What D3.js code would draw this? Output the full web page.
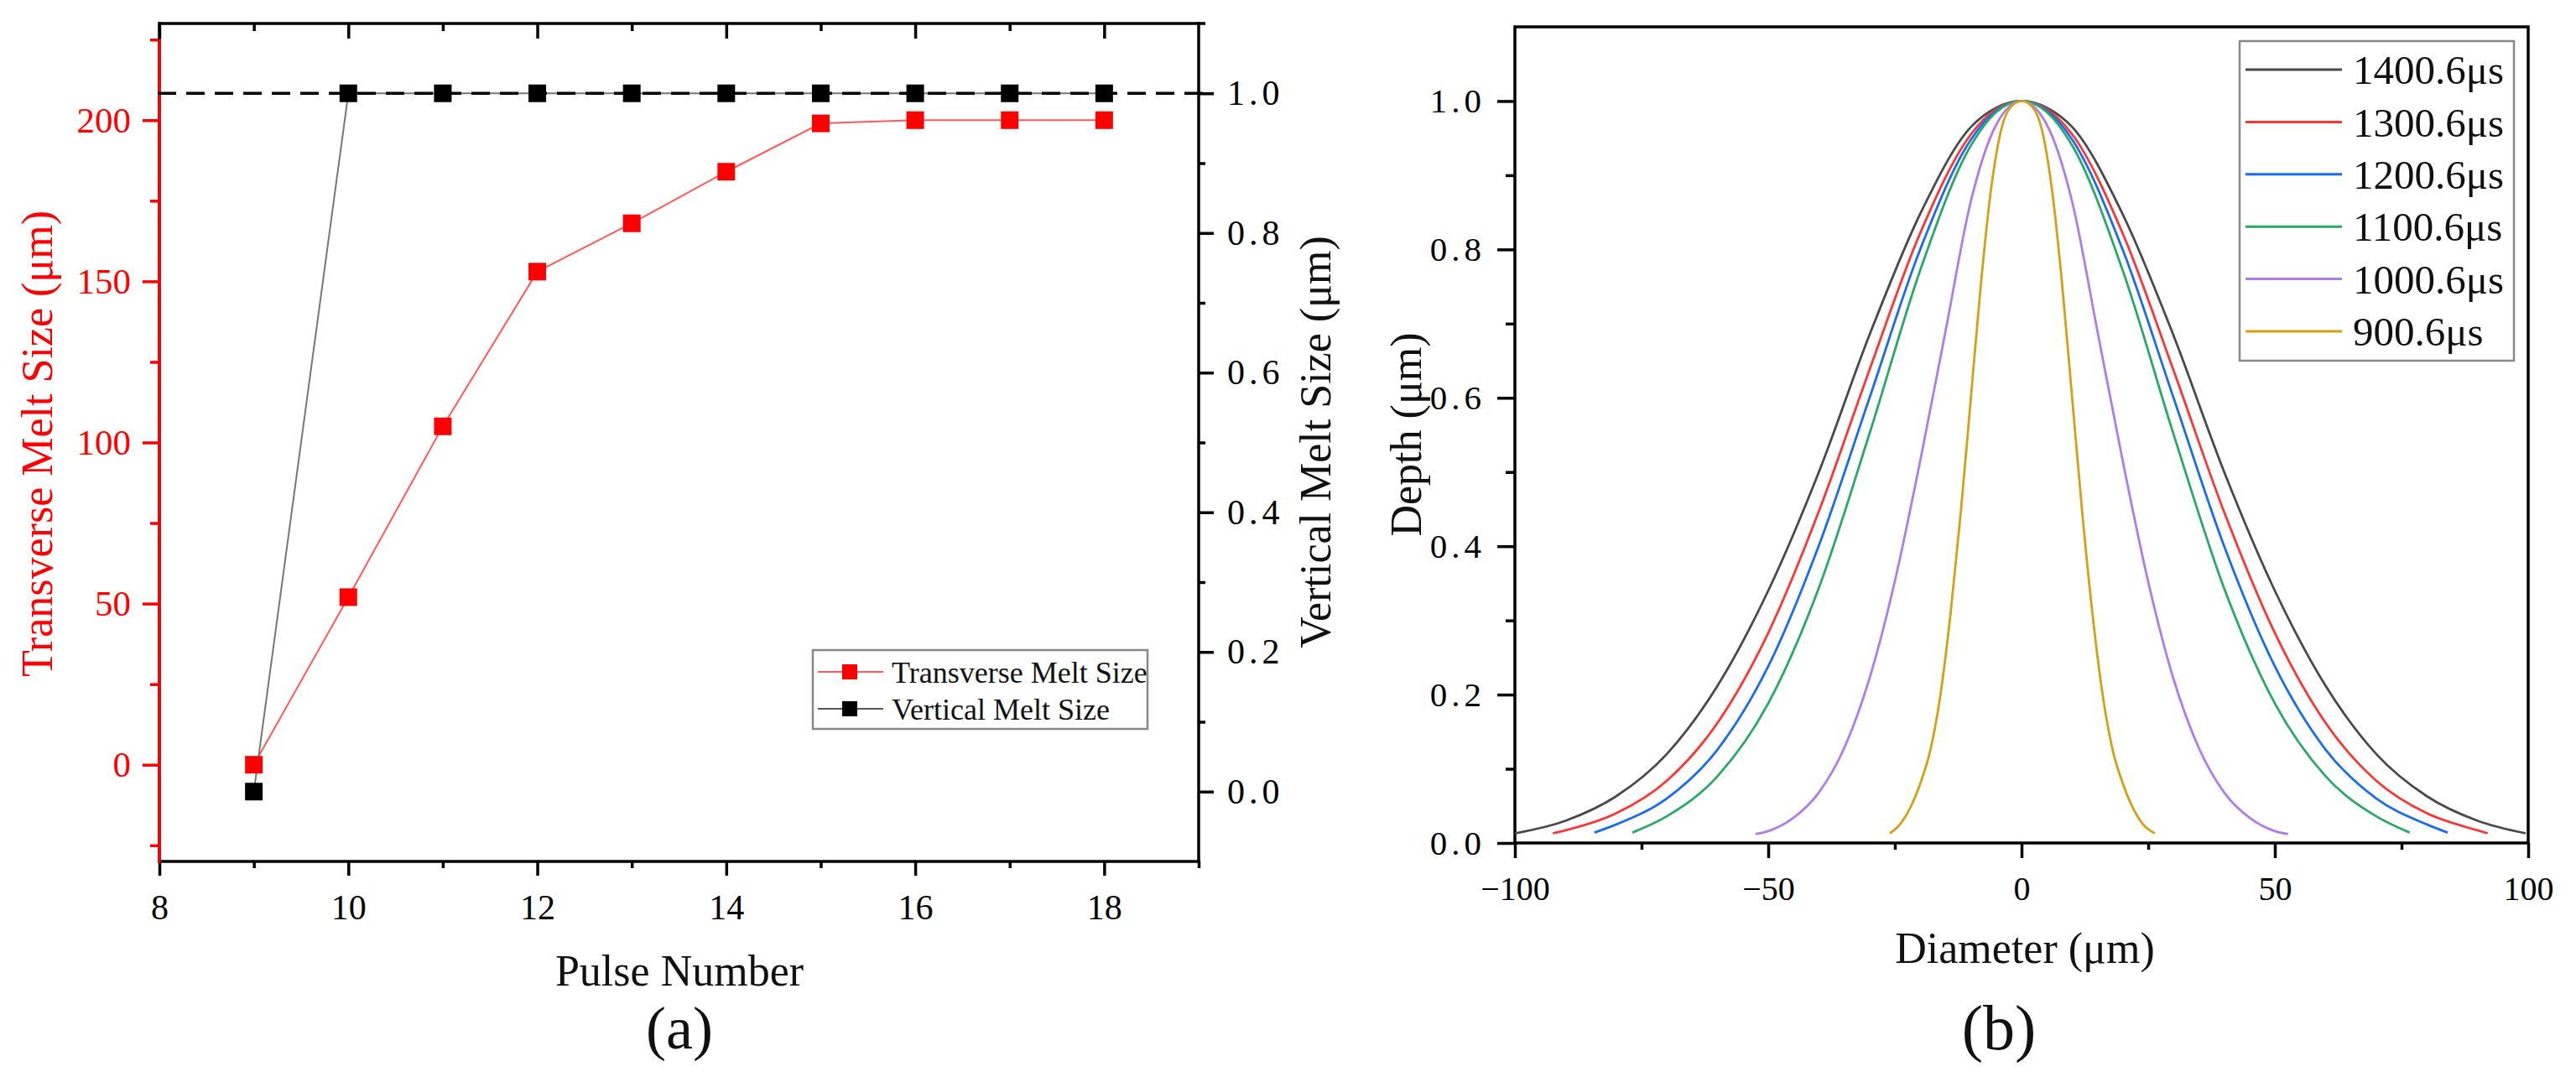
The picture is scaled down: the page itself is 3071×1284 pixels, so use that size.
<!DOCTYPE html>
<html>
<head>
<meta charset="utf-8">
<script src="https://cdn.jsdelivr.net/npm/d3@7"></script>
<style>
  html, body { margin: 0; padding: 0; background: #fff; }
  svg { display: block; }
  text { font-family: "Liberation Serif", "Times New Roman", serif; }
</style>
</head>
<body>
<svg id="chart" width="3071" height="1284"></svg>
<script>
// ---------------- Panel (a) data ----------------
const pulseNumbers = [9, 10, 11, 12, 13, 14, 15, 16, 17, 18];
const transverseMelt = [0, 52, 105, 153, 168, 184, 199, 200, 200, 200];
const verticalMelt = [0, 1, 1, 1, 1, 1, 1, 1, 1, 1];
const referenceVertical = 1.0;
const seriesNamesA = ["Transverse Melt Size", "Vertical Melt Size"];

const xTicksA = [8, 10, 12, 14, 16, 18];
const xMinorA = [9, 11, 13, 15, 17, 19];
const yLeftTicks = [0, 50, 100, 150, 200];
const yLeftMinor = [-25, 25, 75, 125, 175, 225];
const yRightTicks = [0, 0.2, 0.4, 0.6, 0.8, 1.0];
const yRightMinor = [0.1, 0.3, 0.5, 0.7, 0.9];

// ---------------- Panel (b) data ----------------
const labelsB = ["1400.6μs", "1300.6μs", "1200.6μs", "1100.6μs", "1000.6μs", "900.6μs"];
const colorsB = ["#4a4a4a", "#ff3535", "#1a6cf0", "#2aa866", "#b07ce8", "#d4a114"];
const curve1400 = [[-100,0.013],[-90,0.03],[-80,0.063],[-70,0.12],[-60,0.212],[-50,0.34],[-40,0.5],[-30,0.685],[-20,0.848],[-10,0.965],[-5,0.991],[0,1],
                   [5,0.991],[10,0.965],[20,0.847],[30,0.684],[40,0.5],[50,0.34],[60,0.212],[70,0.12],[80,0.063],[90,0.03],[99.5,0.013]];
const curve1300 = [[-92.5,0.013],[-90,0.017],[-80,0.04],[-70,0.084],[-60,0.162],[-50,0.283],[-40,0.447],[-30,0.638],[-20,0.822],[-10,0.955],[-5,0.989],[0,1],
                   [5,0.989],[10,0.955],[20,0.821],[30,0.637],[40,0.446],[50,0.283],[60,0.162],[70,0.084],[80,0.04],[90,0.017],[92,0.013]];
const curve1200 = [[-84.3,0.014],[-80,0.025],[-70,0.06],[-60,0.126],[-50,0.238],[-40,0.401],[-30,0.6],[-20,0.8],[-10,0.948],[-5,0.987],[0,1],
                   [5,0.987],[10,0.948],[20,0.799],[30,0.6],[40,0.4],[50,0.238],[60,0.126],[70,0.06],[80,0.025],[84.1,0.014]];
const curve1100 = [[-76.8,0.014],[-70,0.036],[-60,0.09],[-50,0.188],[-40,0.344],[-30,0.552],[-20,0.772],[-10,0.94],[-5,0.985],[0,1],
                   [5,0.985],[10,0.94],[20,0.771],[30,0.551],[40,0.343],[50,0.188],[60,0.09],[70,0.036],[76.6,0.014]];
const curve1000 = [[-52.5,0.012],[-50,0.016],[-45,0.034],[-40,0.068],[-35,0.128],[-30,0.222],[-25,0.353],[-20,0.515],[-15,0.69],[-10,0.865],[-5,0.968],[0,1],
                   [5,0.968],[10,0.864],[15,0.689],[20,0.514],[25,0.352],[30,0.221],[35,0.128],[40,0.068],[45,0.034],[50,0.016],[52.6,0.012]];
const curve900 = [[-26,0.013],[-24,0.025],[-22,0.047],[-20,0.08],[-18,0.125],[-16,0.2],[-14,0.31],[-12,0.445],[-10,0.6],[-8,0.755],[-6,0.882],[-4,0.962],[-2,0.993],[0,1],
                  [2,0.993],[4,0.962],[6,0.881],[8,0.754],[10,0.599],[12,0.444],[14,0.309],[16,0.2],[18,0.125],[20,0.08],[22,0.047],[24,0.025],[26.3,0.013]];
const curvesB = [curve1400, curve1300, curve1200, curve1100, curve1000, curve900];

const xTicksB = [-100, -50, 0, 50, 100];
const xMinorB = [-75, -25, 25, 75];
const yTicksB = [0, 0.2, 0.4, 0.6, 0.8, 1.0];
const yMinorB = [0.1, 0.3, 0.5, 0.7, 0.9];

// ---------------- Drawing ----------------
const svg = d3.select("#chart");
const RED = "#ff0000";
const FW = 3.5; // frame width
const SERIF = '"Liberation Serif", "Times New Roman", serif';

function styleAxis(g, color, fontSize) {
  g.attr("font-family", SERIF);
  g.select(".domain").remove();
  g.selectAll(".tick line").attr("stroke", color).attr("stroke-width", FW);
  g.selectAll(".tick text").attr("fill", color).attr("font-size", fontSize).attr("font-family", SERIF);
}

// ===== Panel (a) =====
const xA = d3.scaleLinear().domain([8, 19]).range([190, 1429]);
const yL = d3.scaleLinear().domain([-30, 230]).range([1027, 28]);
const yR = d3.scaleLinear().domain([-0.1, 1.1]).range([1027, 28]);
const gA = svg.append("g");

gA.append("g").attr("transform", "translate(0,1027)")
  .call(d3.axisBottom(xA).tickValues(xTicksA).tickSize(17).tickPadding(22).tickFormat(d3.format("d")))
  .call(g => styleAxis(g, "#000", 42));
gA.append("g").attr("transform", "translate(0,1027)")
  .call(d3.axisBottom(xA).tickValues(xMinorA).tickSize(8).tickFormat(""))
  .call(g => styleAxis(g, "#000", 42));
gA.append("g").attr("transform", "translate(0,28)")
  .call(d3.axisBottom(xA).tickValues(xTicksA).tickSize(18).tickFormat(""))
  .call(g => styleAxis(g, "#000", 42));
gA.append("g").attr("transform", "translate(0,28)")
  .call(d3.axisBottom(xA).tickValues(xMinorA.filter(v => v < 19)).tickSize(9).tickFormat(""))
  .call(g => styleAxis(g, "#000", 42));
gA.append("g").attr("transform", "translate(1429,0)")
  .call(d3.axisRight(yR).tickValues(yRightTicks).tickSize(18).tickPadding(16).tickFormat(d3.format(".1f")))
  .call(g => styleAxis(g, "#000", 42))
  .call(g => g.selectAll(".tick text").attr("letter-spacing", 5));
gA.append("g").attr("transform", "translate(1429,0)")
  .call(d3.axisRight(yR).tickValues(yRightMinor).tickSize(8).tickFormat(""))
  .call(g => styleAxis(g, "#000", 42));
gA.append("g").attr("transform", "translate(190,0)")
  .call(d3.axisLeft(yL).tickValues(yLeftTicks).tickSize(20).tickPadding(14).tickFormat(d3.format("d")))
  .call(g => styleAxis(g, RED, 43));
gA.append("g").attr("transform", "translate(190,0)")
  .call(d3.axisLeft(yL).tickValues(yLeftMinor).tickSize(11).tickFormat(""))
  .call(g => styleAxis(g, RED, 43));

// frame
gA.append("line").attr("x1", 190).attr("x2", 1437).attr("y1", 28).attr("y2", 28).attr("stroke", "#000").attr("stroke-width", FW);
gA.append("line").attr("x1", 188).attr("x2", 1431).attr("y1", 1027).attr("y2", 1027).attr("stroke", "#000").attr("stroke-width", FW);
gA.append("line").attr("x1", 1429).attr("x2", 1429).attr("y1", 26).attr("y2", 1029).attr("stroke", "#000").attr("stroke-width", FW);
gA.append("line").attr("x1", 190).attr("x2", 190).attr("y1", 26).attr("y2", 1027).attr("stroke", "#000").attr("stroke-width", FW);
gA.append("line").attr("x1", 190).attr("x2", 190).attr("y1", yL(225)).attr("y2", 1029).attr("stroke", RED).attr("stroke-width", FW);

// data lines
const lineT = d3.line().x((d, i) => xA(pulseNumbers[i])).y(d => yL(d));
const lineV = d3.line().x((d, i) => xA(pulseNumbers[i])).y(d => yR(d));
gA.append("path").datum(transverseMelt).attr("d", lineT).attr("fill", "none").attr("stroke", "#ff5a5a").attr("stroke-width", 2);
gA.append("path").datum(verticalMelt).attr("d", lineV).attr("fill", "none").attr("stroke", "#777").attr("stroke-width", 2);

// dashed reference line
gA.append("line").attr("x1", 188).attr("x2", 1447)
  .attr("y1", yR(referenceVertical)).attr("y2", yR(referenceVertical))
  .attr("stroke", "#000").attr("stroke-width", 3.5).attr("stroke-dasharray", "22,12");

// markers
const MS = 21;
gA.selectAll(".mT").data(transverseMelt).join("rect")
  .attr("x", (d, i) => xA(pulseNumbers[i]) - MS / 2).attr("y", d => yL(d) - MS / 2)
  .attr("width", MS).attr("height", MS).attr("fill", RED);
gA.selectAll(".mV").data(verticalMelt).join("rect")
  .attr("x", (d, i) => xA(pulseNumbers[i]) - MS / 2).attr("y", d => yR(d) - MS / 2)
  .attr("width", MS).attr("height", MS).attr("fill", "#000");

// legend (a)
const legA = gA.append("g");
legA.append("rect").attr("x", 969).attr("y", 775).attr("width", 399).attr("height", 94)
  .attr("fill", "#fff").attr("stroke", "#888").attr("stroke-width", 2.5);
[[801, "#ff5a5a", RED], [845, "#555", "#000"]].forEach((r, i) => {
  legA.append("line").attr("x1", 975).attr("x2", 1053).attr("y1", r[0]).attr("y2", r[0]).attr("stroke", r[1]).attr("stroke-width", 2);
  legA.append("rect").attr("x", 1013 - 9).attr("y", r[0] - 9).attr("width", 18).attr("height", 18).attr("fill", r[2]);
  legA.append("text").attr("x", 1063).attr("y", r[0]).attr("dy", "0.35em").attr("font-size", 36)
    .attr("fill", "#111").text(seriesNamesA[i]);
});

// titles (a)
gA.append("text").attr("transform", "translate(44,529) rotate(-90)").attr("dy", "0.35em")
  .attr("text-anchor", "middle").attr("font-size", 52).attr("fill", RED).text("Transverse Melt Size (μm)");
gA.append("text").attr("transform", "translate(1568,527) rotate(-90)").attr("dy", "0.35em")
  .attr("text-anchor", "middle").attr("font-size", 52).attr("fill", "#111").text("Vertical Melt Size (μm)");
gA.append("text").attr("x", 810).attr("y", 1175).attr("text-anchor", "middle")
  .attr("font-size", 52).attr("fill", "#111").text("Pulse Number");
gA.append("text").attr("x", 810).attr("y", 1250).attr("text-anchor", "middle")
  .attr("font-size", 72).attr("fill", "#111").text("(a)");

// ===== Panel (b) =====
const xB = d3.scaleLinear().domain([-100, 100]).range([1806, 3014]);
const yB = d3.scaleLinear().domain([0, 1.1]).range([1005, 32]);
const gB = svg.append("g");

gB.append("g").attr("transform", "translate(0,1005)")
  .call(d3.axisBottom(xB).tickValues(xTicksB).tickSize(18).tickPadding(22))
  .call(g => styleAxis(g, "#000", 40));
gB.append("g").attr("transform", "translate(0,1005)")
  .call(d3.axisBottom(xB).tickValues(xMinorB).tickSize(8).tickFormat(""))
  .call(g => styleAxis(g, "#000", 40));
gB.append("g").attr("transform", "translate(1806,0)")
  .call(d3.axisLeft(yB).tickValues(yTicksB).tickSize(21).tickPadding(14).tickFormat(d3.format(".1f")))
  .call(g => styleAxis(g, "#000", 41))
  .call(g => g.selectAll(".tick text").attr("letter-spacing", 5));
gB.append("g").attr("transform", "translate(1806,0)")
  .call(d3.axisLeft(yB).tickValues(yMinorB).tickSize(11).tickFormat(""))
  .call(g => styleAxis(g, "#000", 41));

// frame (b)
gB.append("rect").attr("x", 1806).attr("y", 32).attr("width", 1208).attr("height", 973)
  .attr("fill", "none").attr("stroke", "#000").attr("stroke-width", FW);

// curves
const curveLine = d3.line().x(d => xB(d[0])).y(d => yB(d[1])).curve(d3.curveMonotoneX);
gB.selectAll(".curve").data(curvesB).join("path")
  .attr("d", curveLine).attr("fill", "none")
  .attr("stroke", (d, i) => colorsB[i]).attr("stroke-width", 2.8);

// legend (b)
const legB = gB.append("g");
legB.append("rect").attr("x", 2670).attr("y", 49).attr("width", 327).attr("height", 381)
  .attr("fill", "#fff").attr("stroke", "#888").attr("stroke-width", 2.5);
labelsB.forEach((lab, i) => {
  const yy = 83 + i * 62.4;
  legB.append("line").attr("x1", 2677).attr("x2", 2792).attr("y1", yy).attr("y2", yy)
    .attr("stroke", colorsB[i]).attr("stroke-width", 3);
  legB.append("text").attr("x", 2805).attr("y", yy).attr("dy", "0.35em").attr("font-size", 49)
    .attr("fill", "#111").text(lab);
});

// titles (b)
gB.append("text").attr("transform", "translate(1676,518) rotate(-90)").attr("dy", "0.35em")
  .attr("text-anchor", "middle").attr("font-size", 52).attr("fill", "#111").text("Depth (μm)");
gB.append("text").attr("x", 2414).attr("y", 1148).attr("text-anchor", "middle")
  .attr("font-size", 52).attr("fill", "#111").text("Diameter (μm)");
gB.append("text").attr("x", 2383).attr("y", 1251).attr("text-anchor", "middle")
  .attr("font-size", 76).attr("fill", "#111").text("(b)");
</script>
</body>
</html>
